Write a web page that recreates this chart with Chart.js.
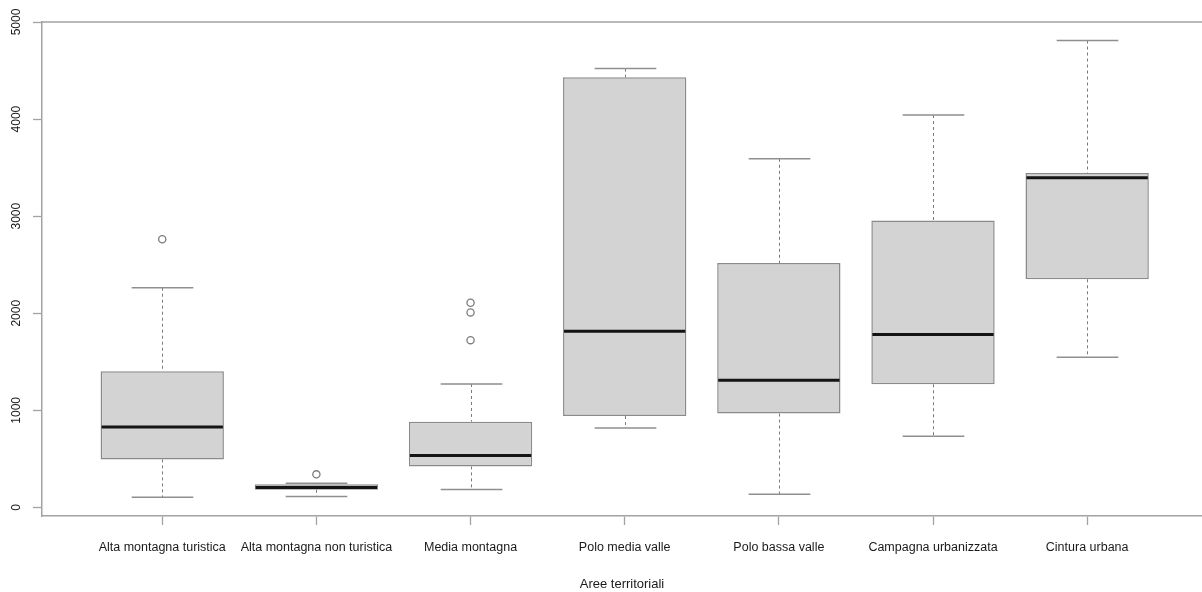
<!DOCTYPE html>
<html>
<head>
<meta charset="utf-8">
<script src="https://cdn.jsdelivr.net/npm/chart.js@4/dist/chart.umd.min.js"></script>
<style>
  html, body { margin: 0; padding: 0; background: #ffffff; overflow: hidden; }
  #wrap { width: 1202px; height: 592px; }
</style>
</head>
<body>
<div id="wrap"><canvas id="chart" width="1202" height="592"></canvas></div>
<script>
// Territorial areas and the five-number summary of each group
const categories = [
  'Alta montagna turistica',
  'Alta montagna non turistica',
  'Media montagna',
  'Polo media valle',
  'Polo bassa valle',
  'Campagna urbanizzata',
  'Cintura urbana'
];
const lowerWhisker = [106, 112, 186, 818, 137, 733, 1548];
const q1           = [495, 182, 423, 942, 967, 1269, 2350];
const median       = [829, 205, 534, 1816, 1311, 1782, 3395];
const q3           = [1403, 240, 884, 4430, 2518, 2955, 3444];
const upperWhisker = [2263, 250, 1272, 4520, 3591, 4042, 4809];

// Points beyond the whiskers: group index and value
const outlierGroup = [0, 1, 2, 2, 2];
const outlierValue = [2763, 341, 2108, 2009, 1723];

const yTickValues = [0, 1000, 2000, 3000, 4000, 5000];

const AXIS_GREY = '#a3a3a3';
const FONT = '"Liberation Sans", Arial, sans-serif';

Chart.defaults.font.family = FONT;

// Whisker stems, caps and median bars, positioned through the chart scales
const boxDecorations = {
  id: 'boxDecorations',
  beforeDatasetsDraw(chart) {
    const { ctx, scales: { x, y } } = chart;
    const bars = chart.getDatasetMeta(0).data;
    ctx.save();
    categories.forEach((_, i) => {
      const cx = Math.round(x.getPixelForValue(i)) + 0.5;
      const half = bars[i].width / 2;
      const yHi = y.getPixelForValue(upperWhisker[i]);
      const yQ3 = y.getPixelForValue(q3[i]);
      const yQ1 = y.getPixelForValue(q1[i]);
      const yLo = y.getPixelForValue(lowerWhisker[i]);
      // dashed stems
      ctx.setLineDash([3, 3]);
      ctx.lineWidth = 1;
      ctx.strokeStyle = '#7a7a7a';
      ctx.beginPath();
      ctx.moveTo(cx, yHi); ctx.lineTo(cx, yQ3);
      ctx.moveTo(cx, yQ1); ctx.lineTo(cx, yLo);
      ctx.stroke();
      // caps, half the box width
      ctx.setLineDash([]);
      ctx.lineWidth = 1.5;
      ctx.strokeStyle = '#8f8f8f';
      ctx.beginPath();
      ctx.moveTo(cx - half / 2, yHi); ctx.lineTo(cx + half / 2, yHi);
      ctx.moveTo(cx - half / 2, yLo); ctx.lineTo(cx + half / 2, yLo);
      ctx.stroke();
    });
    ctx.restore();
  },
  afterDatasetsDraw(chart) {
    const { ctx, chartArea, scales: { x, y } } = chart;
    const bars = chart.getDatasetMeta(0).data;
    ctx.save();
    ctx.lineWidth = 3;
    ctx.strokeStyle = '#141414';
    categories.forEach((_, i) => {
      const cx = x.getPixelForValue(i);
      const half = bars[i].width / 2;
      const ym = y.getPixelForValue(median[i]);
      ctx.beginPath();
      ctx.moveTo(cx - half + 1, ym);
      ctx.lineTo(cx + half - 1, ym);
      ctx.stroke();
    });
    // upper edge of the plot frame
    ctx.lineWidth = 1.5;
    ctx.strokeStyle = AXIS_GREY;
    ctx.beginPath();
    ctx.moveTo(chartArea.left, chartArea.top);
    ctx.lineTo(chartArea.right, chartArea.top);
    ctx.stroke();
    ctx.restore();
  }
};

new Chart(document.getElementById('chart'), {
  type: 'bar',
  data: {
    datasets: [
      {
        label: 'IQR',
        data: categories.map((_, i) => ({ x: i, y: [q1[i], q3[i]] })),
        backgroundColor: '#d3d3d3',
        borderColor: '#8a8a8a',
        borderWidth: 1.5,
        borderSkipped: false,
        categoryPercentage: 0.8,
        barPercentage: 1.0,
        order: 2
      },
      {
        type: 'scatter',
        label: 'Outliers',
        data: outlierGroup.map((g, k) => ({ x: g, y: outlierValue[k] })),
        pointStyle: 'circle',
        pointRadius: 3.6,
        pointBorderWidth: 1.3,
        pointBorderColor: '#7d7d7d',
        pointBackgroundColor: 'rgba(255,255,255,0)',
        order: 1
      }
    ]
  },
  options: {
    responsive: false,
    devicePixelRatio: 1,
    animation: false,
    events: [],
    layout: { autoPadding: false, padding: { top: 22, right: 0, bottom: 0, left: 0 } },
    plugins: {
      legend: { display: false },
      tooltip: { enabled: false }
    },
    scales: {
      x: {
        type: 'linear',
        min: -0.78,
        max: 6.745,
        offset: false,
        afterBuildTicks: (s) => { s.ticks = categories.map((_, i) => ({ value: i })); },
        afterFit: (s) => {
          s.height = 76;
          s.paddingLeft = 0; s.paddingRight = 0; s.paddingTop = 0; s.paddingBottom = 0;
        },
        ticks: {
          autoSkip: false,
          minRotation: 0,
          maxRotation: 0,
          padding: 15,
          color: '#1a1a1a',
          font: { size: 12.5 },
          callback: (v) => categories[v]
        },
        grid: {
          offset: false,
          drawOnChartArea: false,
          drawTicks: true,
          tickLength: 9,
          tickWidth: 1.3,
          tickColor: AXIS_GREY,
          color: AXIS_GREY
        },
        border: { display: true, color: AXIS_GREY, width: 1.5 },
        title: {
          display: true,
          text: 'Aree territoriali',
          color: '#1a1a1a',
          font: { size: 13 },
          padding: { top: 0, bottom: 0 }
        }
      },
      y: {
        type: 'linear',
        min: -88,
        max: 5000,
        beginAtZero: false,
        afterBuildTicks: (s) => { s.ticks = yTickValues.map((v) => ({ value: v })); },
        afterFit: (s) => {
          s.width = 42;
          s.paddingLeft = 0; s.paddingRight = 0; s.paddingTop = 0; s.paddingBottom = 0;
        },
        ticks: {
          minRotation: 90,
          maxRotation: 90,
          crossAlign: 'center',
          padding: 3,
          color: '#1a1a1a',
          font: { size: 12 },
          callback: (v) => String(v)
        },
        grid: {
          drawOnChartArea: false,
          drawTicks: true,
          tickLength: 9,
          tickWidth: 1.3,
          tickColor: AXIS_GREY,
          color: AXIS_GREY
        },
        border: { display: true, color: AXIS_GREY, width: 1.5 }
      }
    }
  },
  plugins: [boxDecorations]
});
</script>
</body>
</html>
